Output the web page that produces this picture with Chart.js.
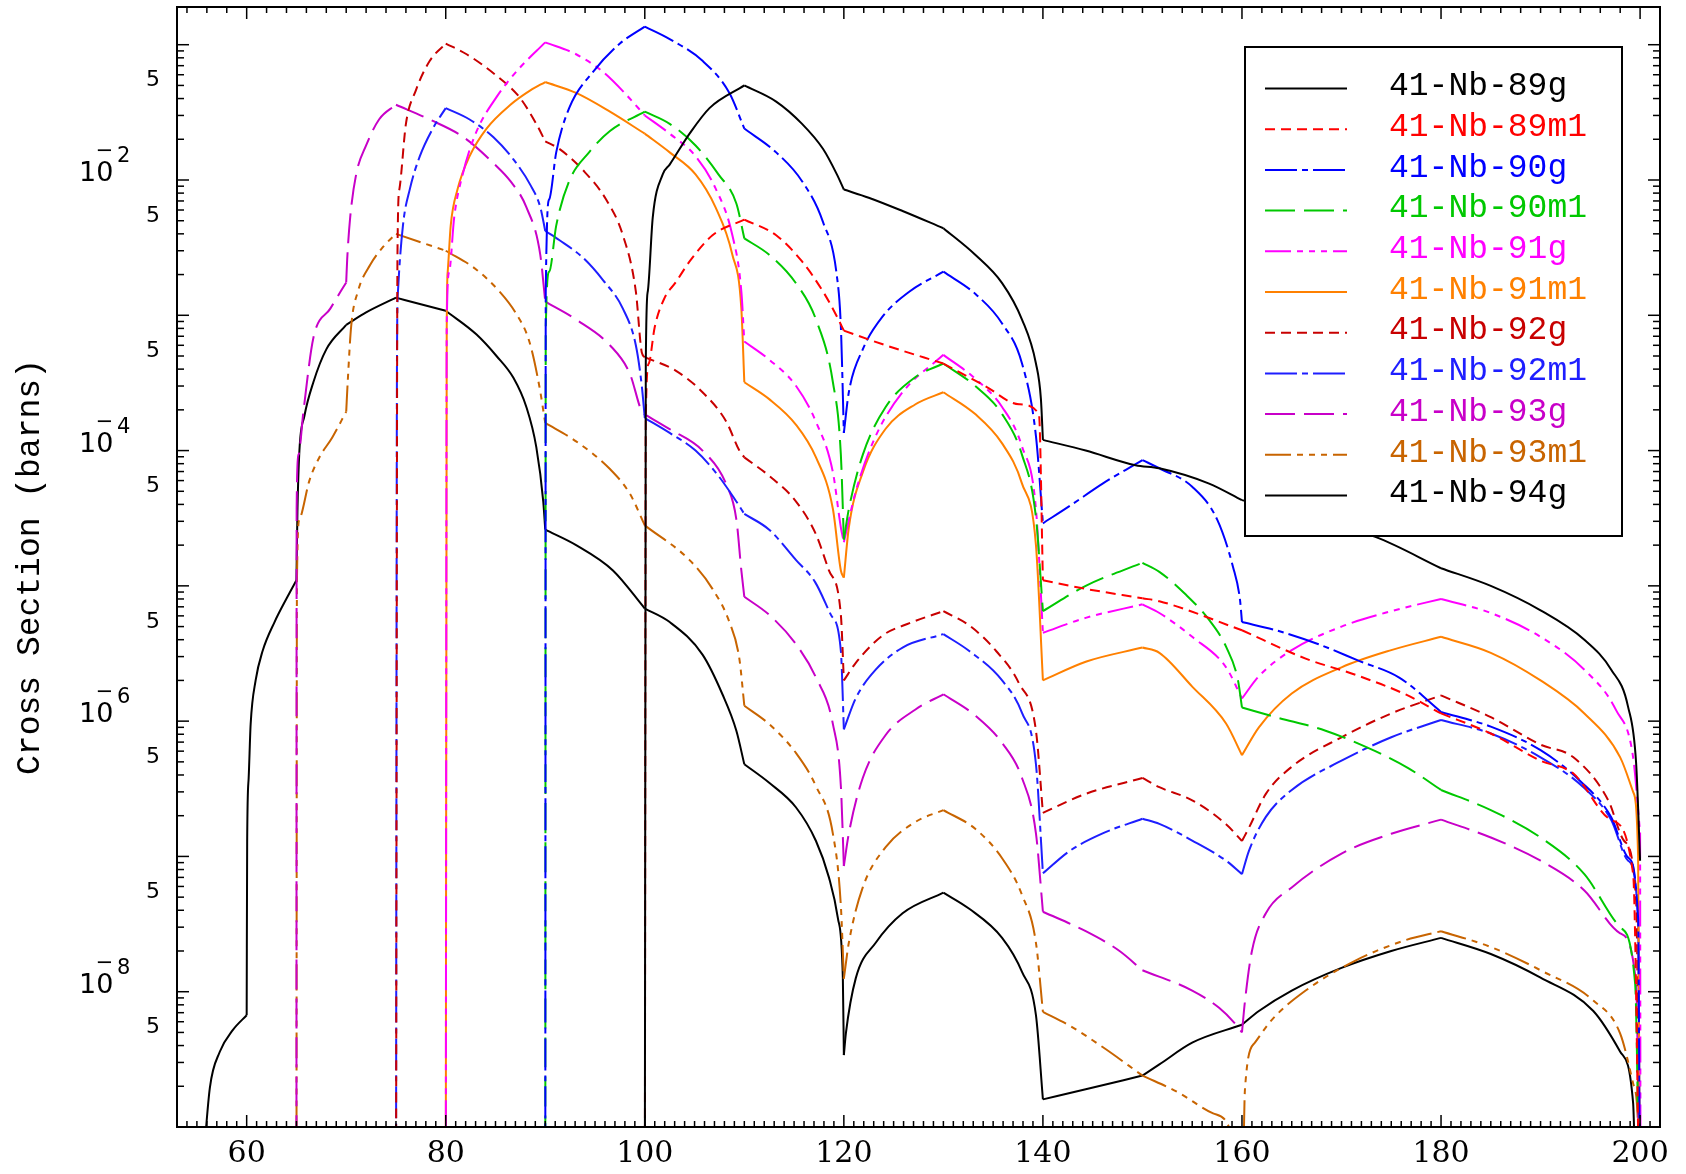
<!DOCTYPE html>
<html>
<head>
<meta charset="utf-8">
<script src="https://cdn.jsdelivr.net/npm/chart.js@4.4.0/dist/chart.umd.min.js"></script>
<style>
  html, body { margin: 0; padding: 0; background: #fff; }
  canvas { display: block; }
</style>
</head>
<body>
<canvas id="chart" width="1686" height="1174"></canvas>
<script>
// Nombres de las series, colores y estilo de linea (como en la leyenda)
const labels = ['41-Nb-89g', '41-Nb-89m1', '41-Nb-90g', '41-Nb-90m1', '41-Nb-91g', '41-Nb-91m1',
                '41-Nb-92g', '41-Nb-92m1', '41-Nb-93g', '41-Nb-93m1', '41-Nb-94g'];
const colors = ['#000000', '#FF0000', '#0000FF', '#00C800', '#FF00FF', '#FF8000',
                '#C80000', '#1E1EFF', '#C800C8', '#C86400', '#000000'];
const DASHED = [10, 6], DASHDOT = [32, 5, 6, 5], LONGDASH = [30, 9], DASH3DOT = [26, 6, 6, 6, 6, 6, 6, 6];
const dashes = [[], DASHED, DASHDOT, LONGDASH, DASH3DOT, [], DASHED, DASHDOT, LONGDASH, DASH3DOT, []];

// Energía (MeV) , sección eficaz (barns)
const nb89g = [[100, 1e-10], [100.1, 4.4e-4], [100.3, 1.5e-3], [100.8, 5.3e-3], [101.8, 1.1e-2], [102.5, 1.3e-2],
  [104.5, 2.2e-2], [106.5, 3.4e-2], [110, 5e-2], [113.2, 3.8e-2], [115.8, 2.6e-2], [117.9, 1.7e-2], [119.3, 1.1e-2],
  [120, 8.5e-3], [122.5, 7.4e-3], [125.9, 5.9e-3], [130, 4.4e-3], [133.2, 2.8e-3], [135.9, 1.73e-3], [137.9, 9.3e-4],
  [139.3, 4.4e-4], [139.8, 2.4e-4], [140, 1.2e-4], [144.3, 1e-4], [149.3, 7.8e-5], [151.7, 7.4e-5], [156.7, 5.7e-5],
  [160, 4.3e-5], [173.4, 2.3e-5], [180, 1.35e-5], [185, 1e-5], [190, 6.6e-6], [194.4, 4e-6], [197.1, 2.4e-6],
  [198.8, 1.27e-6], [199.6, 4.9e-7], [200, 9.3e-8]];
const nb89m1 = [[100, 1e-10], [100.1, 1.74e-4], [100.4, 4.4e-4], [101, 8.2e-4], [102, 1.35e-3], [103.1, 1.75e-3],
  [104.5, 2.5e-3], [106.8, 3.9e-3], [110, 5.1e-3], [113.2, 3.9e-3], [115.8, 2.5e-3], [117.9, 1.5e-3], [119.3, 9.8e-4],
  [120, 7.7e-4], [124.2, 6e-4], [130, 4.4e-4], [134.2, 3e-4], [137.6, 2.2e-4], [139.6, 1.86e-4], [140, 1.1e-5],
  [144.3, 9.5e-6], [150, 8.1e-6], [151.7, 7.7e-6], [160, 4.7e-6], [166.4, 2.9e-6], [171.4, 2.2e-6], [176.4, 1.58e-6],
  [180, 1.14e-6], [185, 8.1e-7], [190, 5.1e-7], [193.3, 4.1e-7], [197.1, 1.86e-7], [199.3, 7.4e-8], [200, 1e-10]];
const nb90g = [[90, 1e-10], [90.05, 1.5e-3], [90.4, 7.2e-3], [91.1, 1.6e-2], [92.4, 3.4e-2], [94.8, 6.3e-2],
  [97.5, 0.102], [100, 0.136], [102.5, 0.11], [105.8, 7.6e-2], [108.5, 4.4e-2], [110, 2.4e-2], [113.2, 1.6e-2],
  [115.8, 9.8e-3], [117.9, 4.9e-3], [119.3, 1.95e-3], [119.7, 8.2e-4], [120, 1.35e-4], [120.5, 2.7e-4], [121.9, 5.6e-4],
  [123.9, 9.8e-4], [126.6, 1.5e-3], [130, 2.1e-3], [133.2, 1.44e-3], [135.9, 8.7e-4], [137.9, 4.4e-4], [139.3, 1.28e-4],
  [140, 2.9e-5], [142.7, 3.9e-5], [146, 5.7e-5], [150, 8.5e-5], [151.7, 7.4e-5], [155, 5.4e-5], [157.5, 3.1e-5],
  [159.1, 1.38e-5], [159.8, 7.9e-6], [160, 5.4e-6], [163.4, 4.7e-6], [167.7, 3.7e-6], [171.7, 2.8e-6], [175.8, 2.1e-6],
  [180, 1.17e-6], [185, 9.1e-7], [190, 6.1e-7], [194, 3.6e-7], [197.1, 1.95e-7], [198.8, 9.8e-8], [199.8, 3.5e-8],
  [200, 1e-10]];
const nb90m1 = [[90, 1e-10], [90.05, 8.2e-4], [90.4, 2.1e-3], [91.1, 4.6e-3], [92.4, 9.8e-3], [94.4, 1.6e-2],
  [96.5, 2.3e-2], [100, 3.2e-2], [102.5, 2.6e-2], [105.1, 1.8e-2], [107.4, 1.1e-2], [109.2, 6.7e-3], [110, 3.7e-3],
  [112.5, 2.8e-3], [115.2, 1.72e-3], [117.2, 9.3e-4], [118.9, 3.2e-4], [119.7, 9.3e-5], [120, 2.2e-5], [120.5, 3.7e-5],
  [121.9, 9.3e-5], [124.2, 2.1e-4], [127.2, 3.5e-4], [130, 4.4e-4], [133.2, 3e-4], [135.9, 1.86e-4], [137.9, 9.3e-5],
  [139.3, 3.2e-5], [140, 6.5e-6], [144.3, 1e-5], [150, 1.48e-5], [151.7, 1.27e-5], [154.3, 8.7e-6], [156.7, 5.6e-6],
  [158.4, 3.55e-6], [159.6, 2e-6], [160, 1.26e-6], [163.4, 1.07e-6], [168.4, 8.5e-7], [173.4, 6e-7], [176.7, 4.5e-7],
  [180, 3.1e-7], [185, 2.2e-7], [190, 1.38e-7], [194.4, 7.4e-8], [198, 3e-8], [199.5, 1.15e-8], [200, 1e-10]];
const nb91g = [[80, 1e-10], [80.1, 8.3e-4], [80.35, 2.1e-3], [80.85, 5.3e-3], [81.7, 1.1e-2], [83, 2.2e-2],
  [85.1, 4.1e-2], [87.4, 6.7e-2], [90, 0.104], [93.1, 8.5e-2], [95.8, 6.3e-2], [98.1, 4.3e-2], [100, 3e-2],
  [102.5, 2.2e-2], [105.1, 1.5e-2], [107.1, 8.7e-3], [108.8, 3.9e-3], [109.7, 1.5e-3], [110, 6.4e-4], [112.5, 4.7e-4],
  [115.2, 3e-4], [117.2, 1.63e-4], [118.9, 6.9e-5], [119.7, 2.7e-5], [120, 2.1e-5], [121.2, 5e-5], [123.2, 1.28e-4],
  [125.9, 2.7e-4], [130, 5.1e-4], [133.2, 3.4e-4], [135.9, 2.1e-4], [137.9, 1.07e-4], [139.3, 3.7e-5], [140, 4.5e-6],
  [144.3, 5.8e-6], [150, 7.3e-6], [151.7, 6.3e-6], [155, 4.2e-6], [158.4, 2.5e-6], [160, 1.47e-6], [161.7, 2.15e-6],
  [165, 3.35e-6], [170, 5e-6], [175, 6.5e-6], [180, 8e-6], [185, 6.3e-6], [190, 4.2e-6], [194.4, 2.4e-6],
  [197.6, 1.2e-6], [199.3, 5.4e-7], [200, 1.5e-7], [200.05, 1e-10]];
const nb91m1 = [[80, 1e-10], [80.1, 8e-4], [80.2, 2.1e-3], [80.5, 4.6e-3], [81.2, 8.6e-3], [82.4, 1.5e-2],
  [84.1, 2.4e-2], [86.5, 3.6e-2], [88.5, 4.6e-2], [90, 5.3e-2], [93.1, 4.4e-2], [96.5, 3.2e-2], [100, 2.2e-2],
  [102.5, 1.6e-2], [105.1, 1.1e-2], [107.1, 6.3e-3], [108.8, 2.8e-3], [109.7, 1.12e-3], [110, 3.2e-4], [112.5, 2.4e-4],
  [115.2, 1.55e-4], [117.2, 8.9e-5], [118.9, 3.7e-5], [119.7, 1.3e-5], [120, 1.15e-5], [120.5, 2.7e-5], [121.9, 6.9e-5],
  [124.2, 1.45e-4], [127.2, 2.2e-4], [130, 2.7e-4], [133.2, 1.86e-4], [135.9, 1.13e-4], [137.9, 5.7e-5], [139.3, 2e-5],
  [140, 2e-6], [144.3, 2.75e-6], [150, 3.5e-6], [151.7, 3.2e-6], [155, 1.8e-6], [158.4, 9.6e-7], [160, 5.6e-7],
  [161.7, 9e-7], [165, 1.6e-6], [170, 2.5e-6], [175, 3.35e-6], [180, 4.2e-6], [185, 3.2e-6], [190, 2e-6],
  [194.4, 1.14e-6], [198, 5.4e-7], [199.3, 3e-7], [199.8, 1e-7], [200, 1e-10]];
const nb92g = [[75, 1e-10], [75.15, 2.8e-3], [75.35, 8.6e-3], [76, 2.6e-2], [77, 4.6e-2], [78.4, 7.6e-2], [80, 0.102],
  [82.1, 8.5e-2], [85.1, 5.9e-2], [87.4, 4.1e-2], [89.1, 2.6e-2], [90, 1.93e-2], [91.4, 1.7e-2], [93.8, 1.18e-2],
  [96.1, 7.2e-3], [97.8, 3.9e-3], [99.1, 1.5e-3], [99.7, 5.3e-4], [100, 4.9e-4], [103.1, 3.9e-4], [105.8, 2.7e-4],
  [108.2, 1.63e-4], [109.5, 1e-4], [110, 8.9e-5], [112.5, 6.5e-5], [115.2, 4.2e-5], [117.2, 2.4e-5], [118.5, 1.3e-5],
  [119.7, 6.1e-6], [120, 2e-6], [121.2, 2.7e-6], [123.9, 4.3e-6], [126.6, 5.3e-6], [130, 6.5e-6], [132.6, 5.1e-6],
  [135.3, 3.3e-6], [137.6, 1.9e-6], [139.3, 8.5e-7], [140, 2.1e-7], [144.3, 2.9e-7], [150, 3.8e-7], [151.7, 3.25e-7],
  [155, 2.6e-7], [158.4, 1.73e-7], [160, 1.3e-7], [160.7, 1.63e-7], [162.4, 2.9e-7], [165, 4.6e-7], [170, 7.6e-7],
  [175, 1.14e-6], [180, 1.55e-6], [185, 1.07e-6], [190, 6.7e-7], [193.3, 5.4e-7], [196.8, 2.6e-7], [198.4, 1.3e-7],
  [199.6, 4.7e-8], [200, 1e-10]];
const nb92m1 = [[75, 1e-10], [75.1, 4.4e-4], [75.2, 1.5e-3], [75.7, 4.6e-3], [76.4, 8.6e-3], [77.4, 1.5e-2],
  [78.7, 2.4e-2], [80, 3.4e-2], [82.4, 2.8e-2], [84.8, 2.07e-2], [86.8, 1.42e-2], [88.5, 9.2e-3], [89.5, 6.3e-3],
  [90, 4.2e-3], [91.4, 3.6e-3], [93.8, 2.66e-3], [95.8, 1.82e-3], [97.8, 1.12e-3], [99.1, 6e-4], [99.7, 3e-4],
  [100, 1.74e-4], [102.5, 1.35e-4], [105.1, 1e-4], [107.4, 6.5e-5], [109.2, 4.2e-5], [110, 3.4e-5], [112.5, 2.6e-5],
  [115.2, 1.55e-5], [117.1, 1.07e-5], [118.7, 6.1e-6], [119.7, 3.3e-6], [120, 8.7e-7], [121.2, 1.48e-6], [123.2, 2.4e-6],
  [125.9, 3.5e-6], [130, 4.4e-6], [132.6, 3.3e-6], [135.9, 2e-6], [137.9, 1.15e-6], [139.3, 4.8e-7], [140, 7.5e-8],
  [142.7, 1.1e-7], [146, 1.48e-7], [150, 1.9e-7], [151.7, 1.74e-7], [155, 1.31e-7], [158.4, 9.3e-8], [160, 7.4e-8],
  [160.7, 1.1e-7], [162.4, 1.96e-7], [165, 3.1e-7], [170, 5.1e-7], [175, 7.6e-7], [180, 1.02e-6], [185, 8.1e-7],
  [190, 5.4e-7], [194.4, 3.2e-7], [197.1, 1.86e-7], [198.8, 9.3e-8], [199.8, 3.5e-8], [200, 1e-10]];
const nb93g = [[65, 1e-10], [65.02, 3.7e-5], [65.2, 9.3e-5], [65.7, 1.94e-4], [66.7, 6.8e-4], [68.4, 1.12e-3],
  [70, 1.75e-3], [70.1, 2.6e-3], [70.4, 5.3e-3], [71, 1.1e-2], [72, 1.8e-2], [73.3, 2.8e-2], [75, 3.6e-2],
  [78.4, 2.8e-2], [81.8, 2.07e-2], [84.8, 1.33e-2], [86.5, 9.8e-3], [88.1, 6.3e-3], [89.5, 2.8e-3], [90, 1.26e-3],
  [93.1, 9.3e-4], [96.5, 6e-4], [98.5, 3.7e-4], [99.7, 1.94e-4], [100, 1.85e-4], [102.5, 1.44e-4], [105.8, 1e-4],
  [108.2, 5.6e-5], [109.2, 3.1e-5], [109.7, 1.3e-5], [110, 8.3e-6], [112.5, 6.1e-6], [115.2, 3.7e-6], [117.2, 2.1e-6],
  [118.9, 9.5e-7], [119.7, 3.3e-7], [120, 8.5e-8], [120.5, 1.48e-7], [121.9, 3.8e-7], [124.2, 7.9e-7], [127.2, 1.22e-6],
  [130, 1.58e-6], [133.2, 1.1e-6], [135.9, 6.9e-7], [137.9, 3.8e-7], [139.3, 1.48e-7], [140, 3.9e-8], [144.3, 2.8e-8],
  [147.7, 2e-8], [150, 1.44e-8], [155, 1.02e-8], [157.7, 7.6e-9], [159.5, 5.6e-9], [160, 5e-9], [160.3, 8.5e-9],
  [161, 2e-8], [162.4, 3.8e-8], [165, 5.9e-8], [170, 1.05e-7], [175, 1.47e-7], [180, 1.87e-7], [185, 1.38e-7],
  [190, 9.3e-8], [194.4, 5.6e-8], [198, 2.7e-8], [199.6, 1.15e-8], [200, 1e-10]];
const nb93m1 = [[65, 1e-10], [65.05, 1.1e-5], [65.3, 3.1e-5], [66.3, 6e-5], [67.3, 8.9e-5], [68.6, 1.25e-4],
  [70, 1.94e-4], [70.15, 3.2e-4], [70.5, 8.3e-4], [71.2, 1.52e-3], [72.4, 2.35e-3], [73.7, 3.2e-3], [75, 4e-3],
  [80, 3e-3], [83, 2.2e-3], [85.4, 1.5e-3], [87, 1.05e-3], [88.4, 6.4e-4], [89.4, 3e-4], [90, 1.6e-4], [93.1, 1.17e-4],
  [96.5, 7.3e-5], [98.5, 4.8e-5], [100, 2.8e-5], [104.5, 1.55e-5], [106.8, 9.5e-6], [108.5, 5.4e-6], [109.5, 2.9e-6],
  [110, 1.3e-6], [112.5, 9.5e-7], [115.2, 5.8e-7], [117.2, 3.3e-7], [118.9, 1.47e-7], [119.7, 4.3e-8], [120, 1.25e-8],
  [120.5, 2.3e-8], [121.9, 5.9e-8], [124.2, 1.17e-7], [127.2, 1.8e-7], [130, 2.2e-7], [133.2, 1.6e-7], [135.9, 9.7e-8],
  [137.9, 5.2e-8], [139.3, 2.3e-8], [140, 7.1e-9], [142.7, 5.6e-9], [146, 3.9e-9], [150, 2.4e-9], [153.6, 1.8e-9],
  [157.1, 1.26e-9], [158.9, 9e-10], [160, 1e-10], [160.3, 1.9e-9], [161.3, 4.2e-9], [163, 6.2e-9], [166.4, 1.02e-8],
  [171.4, 1.7e-8], [176.4, 2.4e-8], [180, 2.8e-8], [185, 2.14e-8], [190, 1.44e-8], [195.3, 8.6e-9], [198, 4.9e-9],
  [199.3, 2.1e-9], [199.8, 1e-9], [200, 1e-10]];
const nb94g = [[55.6, 5e-10], [56.3, 1.95e-9], [57.3, 3.6e-9], [58.6, 5.2e-9], [60, 6.7e-9], [60.05, 1.3e-7],
  [60.2, 3.8e-7], [60.4, 9.5e-7], [60.9, 2e-6], [61.6, 3.3e-6], [62.8, 5.4e-6], [64.1, 8.3e-6], [65, 1.1e-5],
  [65.1, 3.5e-5], [65.3, 1e-4], [65.8, 1.8e-4], [66.7, 3.2e-4], [68, 5.6e-4], [70, 8.5e-4], [72, 1.05e-3],
  [75, 1.35e-3], [80, 1.08e-3], [83.1, 7.2e-4], [85.1, 5e-4], [86.8, 3.45e-4], [88.1, 2.1e-4], [89.1, 1.06e-4],
  [89.8, 4.2e-5], [90, 2.6e-5], [93.1, 2e-5], [96.8, 1.3e-5], [100, 6.8e-6], [102.5, 5.4e-6], [105.8, 3.1e-6],
  [107.8, 1.58e-6], [109.2, 8.5e-7], [110, 4.8e-7], [112.5, 3.5e-7], [115.2, 2.3e-7], [117.2, 1.3e-7], [118.5, 7e-8],
  [119.4, 3.5e-8], [119.9, 1.25e-8], [120, 3.4e-9], [120.2, 4.9e-9], [121.2, 1.26e-8], [123.2, 2.3e-8], [125.9, 3.8e-8],
  [130, 5.4e-8], [132.6, 4.1e-8], [135.9, 2.5e-8], [137.9, 1.4e-8], [139.3, 6.7e-9], [140, 1.6e-9], [144.3, 1.9e-9],
  [150, 2.4e-9], [151.7, 2.9e-9], [155, 4.2e-9], [160, 5.7e-9], [161.7, 7.2e-9], [165, 1.02e-8], [170, 1.5e-8],
  [175, 2e-8], [180, 2.5e-8], [185, 1.9e-8], [190, 1.27e-8], [195.3, 7.2e-9], [198, 3.6e-9], [199.3, 1.5e-9],
  [199.5, 5e-10]];
const series = [nb89g, nb89m1, nb90g, nb90m1, nb91g, nb91m1, nb92g, nb92m1, nb93g, nb93m1, nb94g];

// Energías donde las curvas tienen quiebre (cada tramo se suaviza por separado)
const kinks = [60, 65, 70, 75, 80, 90, 100, 110, 120, 130, 140, 150, 160, 180, 200];

// Ejes
const xMin = 53, xMax = 202, yMin = 1e-9, yMax = 0.19;
const xTickLabels = [60, 80, 100, 120, 140, 160, 180, 200];
const yPowerLabels = [-2, -4, -6, -8];
const yFiveLabels = [5e-9, 5e-8, 5e-7, 5e-6, 5e-5, 5e-4, 5e-3, 5e-2];

function splitAtKinks(pts) {
  const pieces = [];
  let cur = [];
  pts.forEach(p => {
    cur.push(p);
    if (kinks.includes(p[0]) && cur.length > 1) {
      pieces.push(cur);
      cur = [p];
    }
  });
  if (cur.length > 1) pieces.push(cur);
  return pieces;
}

function line(ctx, x1, y1, x2, y2) {
  ctx.beginPath();
  ctx.moveTo(x1, y1);
  ctx.lineTo(x2, y2);
  ctx.stroke();
}

// Leyenda dentro del grafico (caja blanca que tapa las curvas)
const legendBox = {
  id: 'legendBox',
  afterDatasetsDraw(chart) {
    const ctx = chart.ctx;
    ctx.save();
    ctx.fillStyle = '#fff';
    ctx.fillRect(1245, 47, 377, 489);
    ctx.strokeStyle = '#000';
    ctx.lineWidth = 2;
    ctx.strokeRect(1245, 47, 377, 489);
    ctx.font = '33px "Liberation Mono"';
    ctx.textAlign = 'left';
    ctx.textBaseline = 'middle';
    labels.forEach((lab, i) => {
      const y = 88.5 + i * 40.7;
      ctx.strokeStyle = colors[i];
      ctx.lineWidth = 2;
      ctx.setLineDash(dashes[i]);
      line(ctx, 1265, y, 1347, y);
      ctx.setLineDash([]);
      ctx.fillStyle = colors[i];
      ctx.fillText(lab, 1389, y - 2);
    });
    ctx.restore();
  }
};

// Marco, ticks hacia adentro y etiquetas estilo IDL
const axesFrame = {
  id: 'axesFrame',
  afterDraw(chart) {
    const ctx = chart.ctx;
    const xs = chart.scales.x, ys = chart.scales.y;
    const { left, right, top, bottom } = chart.chartArea;
    ctx.save();
    ctx.strokeStyle = '#000';
    ctx.lineWidth = 1.5;
    for (let v = 54; v <= 202; v++) {
      const px = xs.getPixelForValue(v);
      const major = v % 20 === 0;
      line(ctx, px, bottom, px, bottom - (major ? 12 : 6));
      if (v % 2 === 0) line(ctx, px, top, px, top + (major ? 12 : 6));
    }
    for (let e = -9; e <= -1; e++) {
      for (let m = 1; m <= 9; m++) {
        const v = m * Math.pow(10, e);
        if (v < yMin * 0.999 || v > yMax) continue;
        const py = ys.getPixelForValue(v);
        const len = m === 1 ? 12 : 7;
        line(ctx, left, py, left + len, py);
        line(ctx, right, py, right - len, py);
      }
    }
    ctx.lineWidth = 2;
    ctx.strokeRect(left, top, right - left, bottom - top);

    ctx.fillStyle = '#000';
    ctx.font = '30px "DejaVu Serif"';
    ctx.textAlign = 'center';
    ctx.textBaseline = 'middle';
    xTickLabels.forEach(v => ctx.fillText(String(v), xs.getPixelForValue(v), 1154));

    ctx.textBaseline = 'alphabetic';
    ctx.font = '22px "DejaVu Sans"';
    ctx.textAlign = 'right';
    yFiveLabels.forEach(v => ctx.fillText('5', 160, ys.getPixelForValue(v) + 1));

    yPowerLabels.forEach(p => {
      const py = ys.getPixelForValue(Math.pow(10, p));
      ctx.textAlign = 'left';
      ctx.font = '27px "DejaVu Sans"';
      ctx.fillText('10', 79, py + 1);
      ctx.font = '21px "DejaVu Sans"';
      ctx.fillText(String(-p), 117, py - 18);
      ctx.textAlign = 'center';
      ctx.fillText('\u2212', 104.5, py - 23);
    });

    ctx.translate(30, 567);
    ctx.rotate(-Math.PI / 2);
    ctx.font = '33px "Liberation Mono"';
    ctx.textAlign = 'center';
    ctx.textBaseline = 'middle';
    ctx.fillText('Cross Section (barns)', 0, 0);
    ctx.restore();
  }
};

const datasets = [];
series.forEach((pts, i) => {
  splitAtKinks(pts).forEach(piece => {
    datasets.push({
      label: labels[i],
      data: piece.map(p => ({ x: p[0], y: p[1] })),
      borderColor: colors[i],
      borderDash: dashes[i],
      borderWidth: 2,
      pointRadius: 0,
      fill: false,
      cubicInterpolationMode: 'monotone'
    });
  });
});

const ctx = document.getElementById('chart').getContext('2d');
const chart = new Chart(ctx, {
  type: 'line',
  data: { datasets },
  options: {
    responsive: false,
    animation: false,
    devicePixelRatio: 1,
    layout: { padding: { top: 7, right: 26, left: 0, bottom: 0 } },
    plugins: { legend: { display: false }, tooltip: { enabled: false } },
    scales: {
      x: {
        type: 'linear', min: xMin, max: xMax,
        grid: { display: false }, border: { display: false }, ticks: { display: false },
        afterFit(s) { s.height = 47; }
      },
      y: {
        type: 'logarithmic', min: yMin, max: yMax,
        grid: { display: false }, border: { display: false }, ticks: { display: false },
        afterFit(s) { s.width = 177; }
      }
    }
  },
  plugins: [legendBox, axesFrame]
});
</script>
</body>
</html>
